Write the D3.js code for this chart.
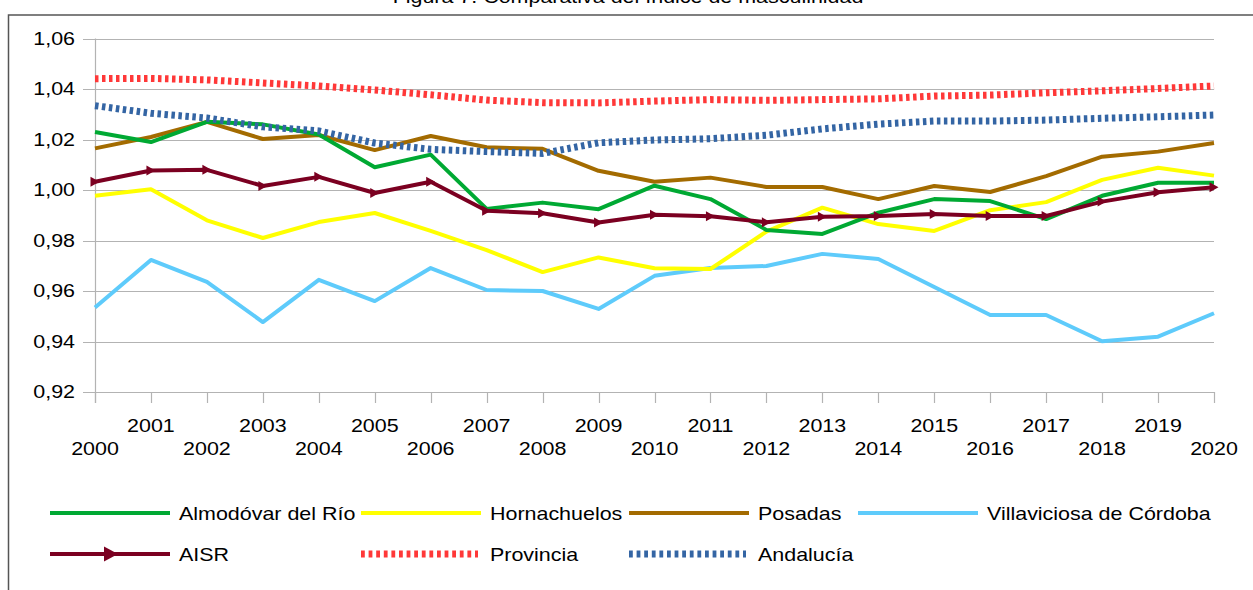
<!DOCTYPE html>
<meta charset="utf-8">
<style>
body { margin: 0; background: #fff; }
text { font-family: "Liberation Sans", Arial, sans-serif; fill: #000; font-size: 18.5px; }
.grid line { stroke: #b3b3b3; stroke-width: 1.2; }
</style>
<svg width="1253" height="590"></svg>
<script src="https://cdn.jsdelivr.net/npm/d3@7"></script>
<script>

var years = d3.range(2000, 2021);
var yTicks = [0.92, 0.94, 0.96, 0.98, 1.00, 1.02, 1.04, 1.06];

var almodovar    = [1.023, 1.019, 1.027, 1.026, 1.022, 1.009, 1.014, 0.9925, 0.995, 0.9924, 1.0017, 0.9964, 0.9842, 0.9826, 0.991, 0.9964, 0.9956, 0.9885, 0.9977, 1.0029, 1.0029];
var hornachuelos = [0.9977, 1.0003, 0.988, 0.981, 0.9873, 0.9909, 0.9838, 0.9762, 0.9675, 0.9733, 0.969, 0.9687, 0.9835, 0.993, 0.9865, 0.9838, 0.992, 0.9952, 1.004, 1.0088, 1.0057];
var posadas      = [1.0165, 1.021, 1.027, 1.0202, 1.0218, 1.0158, 1.0214, 1.0169, 1.0163, 1.0076, 1.0033, 1.0049, 1.0012, 1.0012, 0.9964, 1.0016, 0.9992, 1.0055, 1.0132, 1.0152, 1.0186];
var villaviciosa = [0.9535, 0.9723, 0.9636, 0.9477, 0.9644, 0.956, 0.9691, 0.9604, 0.96, 0.9529, 0.966, 0.9691, 0.9699, 0.9747, 0.9727, 0.9616, 0.9505, 0.9505, 0.9401, 0.9419, 0.9512];
var aisr         = [1.0033, 1.0077, 1.008, 1.0016, 1.0052, 0.9988, 1.0033, 0.9918, 0.9908, 0.9871, 0.9902, 0.9896, 0.9872, 0.9894, 0.9897, 0.9905, 0.9897, 0.9897, 0.9954, 0.9991, 1.0011];
var provincia    = [1.0441, 1.0442, 1.0436, 1.0424, 1.0412, 1.0396, 1.0377, 1.0356, 1.0346, 1.0345, 1.0352, 1.0358, 1.0355, 1.0358, 1.0361, 1.0372, 1.0376, 1.0385, 1.0393, 1.0402, 1.0412];
var andalucia    = [1.0334, 1.0304, 1.0285, 1.025, 1.0234, 1.0186, 1.0161, 1.0152, 1.0145, 1.0187, 1.0198, 1.0203, 1.0217, 1.0242, 1.0261, 1.0273, 1.0273, 1.0277, 1.0284, 1.029, 1.0297];

var series = [
  {name: "Almodóvar del Río", values: almodovar, color: "#00a933"},
  {name: "Hornachuelos", values: hornachuelos, color: "#ffff00"},
  {name: "Posadas", values: posadas, color: "#a36b00"},
  {name: "Villaviciosa de Córdoba", values: villaviciosa, color: "#5ecbfb"},
  {name: "AISR", values: aisr, color: "#7b0021", marker: true},
  {name: "Provincia", values: provincia, color: "#ff3838", dotted: true},
  {name: "Andalucía", values: andalucia, color: "#3465a4", dotted: true}
];

var svg = d3.select("svg");

// the source picture is stretched sideways, so every text gets the same x-scale
var sx = 1.16;
var label = function(parent, x, y, str, anchor, dy) {
  return parent.append("g")
      .attr("transform", "translate(" + x + "," + y + ") scale(" + sx + ",1)")
    .append("text")
      .attr("text-anchor", anchor || "start")
      .attr("dy", dy || 0)
      .text(str);
};

// title sits above the frame and is mostly cut off
label(svg, 628, 3, "Figura 7. Comparativa del índice de masculinidad", "middle");

svg.append("rect")
    .attr("x", 8.5).attr("y", 15)
    .attr("width", 1400).attr("height", 700)
    .attr("fill", "none")
    .attr("stroke", "#555")
    .attr("stroke-width", 1.5);

var x = d3.scaleLinear().domain([2000, 2020]).range([95, 1214]),
    y = d3.scaleLinear().domain([0.92, 1.06]).range([392, 38.5]);

// grid
var grid = svg.append("g").attr("class", "grid");
grid.selectAll("line.h")
  .data(yTicks)
  .enter().append("line")
    .attr("class", "h")
    .attr("x1", 83).attr("x2", x(2020))
    .attr("y1", function(d) { return Math.round(y(d)) + 0.5; })
    .attr("y2", function(d) { return Math.round(y(d)) + 0.5; });

grid.append("line")
    .attr("x1", x(2000) + 0.5).attr("x2", x(2000) + 0.5)
    .attr("y1", y(1.06)).attr("y2", y(0.92) + 11);

grid.selectAll("line.t")
  .data(years)
  .enter().append("line")
    .attr("class", "t")
    .attr("x1", function(d) { return Math.round(x(d)) + 0.5; })
    .attr("x2", function(d) { return Math.round(x(d)) + 0.5; })
    .attr("y1", y(0.92)).attr("y2", y(0.92) + 11);

var fmt = function(d) { return d3.format(".2f")(d).replace(".", ","); };

var yl = svg.append("g");
yTicks.forEach(function(d) {
  label(yl, 75, y(d), fmt(d), "end", "0.35em");
});

var xl = svg.append("g");
years.forEach(function(d) {
  label(xl, x(d), d % 2 ? 432 : 455, d, "middle");
});

// lines
var line = d3.line()
    .x(function(d, i) { return x(years[i]); })
    .y(function(d) { return y(d); });

var tri = function(cx, cy, w, h) {
  return "M" + (cx - w / 2) + "," + (cy - h / 2) + "L" + (cx + w / 2) + "," + cy + "L" + (cx - w / 2) + "," + (cy + h / 2) + "Z";
};

var drawOrder = [3, 1, 2, 0, 5, 6, 4];
drawOrder.forEach(function(k) {
  var s = series[k];
  var p = svg.append("path")
      .datum(s.values)
      .attr("fill", "none")
      .attr("stroke", s.color)
      .attr("stroke-linejoin", "round")
      .attr("d", line);
  if (s.dotted) {
    p.attr("stroke-width", 7).attr("stroke-dasharray", "3.5,3.5");
  } else {
    p.attr("stroke-width", 4);
  }
  if (s.marker) {
    svg.selectAll("path.mk")
      .data(s.values)
      .enter().append("path")
        .attr("fill", s.color)
        .attr("d", function(d, i) { return tri(x(years[i]), y(d), 9, 10); });
  }
});

// legend
var legendPos = [
  {lx: 50, ly: 513}, {lx: 361, ly: 513}, {lx: 629, ly: 513}, {lx: 858, ly: 513},
  {lx: 50, ly: 554}, {lx: 361, ly: 554}, {lx: 629, ly: 554}
];

var lg = svg.append("g");
series.forEach(function(s, i) {
  var pos = legendPos[i];
  var l = lg.append("line")
      .attr("x1", pos.lx).attr("x2", pos.lx + (s.dotted ? 117 : 120))
      .attr("y1", pos.ly).attr("y2", pos.ly)
      .attr("stroke", s.color);
  if (s.dotted) {
    l.attr("stroke-width", 7).attr("stroke-dasharray", "3.8,3.8");
  } else {
    l.attr("stroke-width", 4);
  }
  if (s.marker) {
    lg.append("path")
        .attr("fill", s.color)
        .attr("d", tri(pos.lx + 61, pos.ly, 14, 15));
  }
  label(lg, pos.lx + 129, pos.ly + 1, s.name, "start", "0.35em");
});

</script>
